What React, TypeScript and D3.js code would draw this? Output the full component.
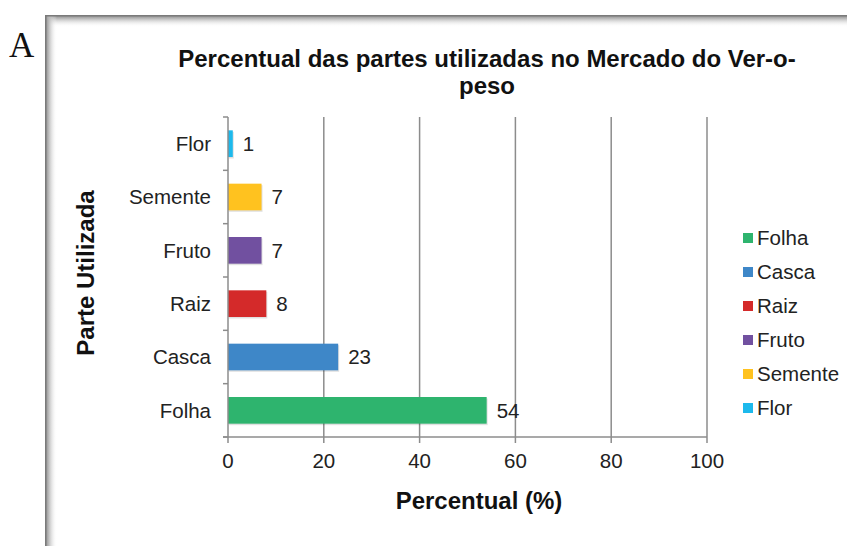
import React from "react";
import * as d3 from "d3";

const categories = ["Folha", "Casca", "Raiz", "Fruto", "Semente", "Flor"];
const values = [54, 23, 8, 7, 7, 1];
const colors = ["#2EB46E", "#3E87C8", "#D42A2A", "#7150A0", "#FFC21F", "#1DB9EC"];
const xTicks = [0, 20, 40, 60, 80, 100];
const titleLines = ["Percentual das partes utilizadas no Mercado do Ver-o-", "peso"];

const W = 847;
const H = 546;
const FONT = "'Liberation Sans', Arial, sans-serif";

export default function App() {
  const plotLeft = 228;
  const plotRight = 707;
  const plotTop = 117;
  const plotBottom = 437;

  const x = d3.scaleLinear().domain([0, 100]).range([plotLeft, plotRight]);
  const displayOrder = [...categories].reverse(); // Flor at top
  const y = d3
    .scaleBand<string>()
    .domain(displayOrder)
    .range([plotTop, plotBottom])
    .paddingInner(0.5)
    .paddingOuter(0.25);
  const step = y.step();
  const boundaries = d3.range(displayOrder.length + 1).map((i) => plotTop + i * step);

  return (
    <svg
      width={W}
      height={H}
      style={{ position: "absolute", left: 0, top: 0, background: "#fff" }}
      fontFamily={FONT}
    >
      <defs>
        <linearGradient id="shL" x1="0" x2="1" y1="0" y2="0">
          <stop offset="0" stopColor="#8a8a8a" />
          <stop offset="0.25" stopColor="#b0b0b0" />
          <stop offset="1" stopColor="#ffffff" stopOpacity="0" />
        </linearGradient>
        <linearGradient id="shT" x1="0" x2="0" y1="0" y2="1">
          <stop offset="0" stopColor="#8a8a8a" />
          <stop offset="0.25" stopColor="#b0b0b0" />
          <stop offset="1" stopColor="#ffffff" stopOpacity="0" />
        </linearGradient>
      </defs>
      {/* Letter A outside box */}
      <text x={9} y={57} fontFamily="'Liberation Serif', 'DejaVu Serif', serif" fontSize={35} fill="#111">
        A
      </text>
      {/* box shadow edges */}
      <rect x={45} y={15} width={W - 45} height={12} fill="url(#shT)" />
      <rect x={45} y={15} width={12} height={H - 15} fill="url(#shL)" />
      <rect x={45} y={15} width={W - 45} height={1.5} fill="#7a7a7a" />
      <rect x={45} y={15} width={1.5} height={H - 15} fill="#7a7a7a" />

      {/* Title */}
      {titleLines.map((t, i) => (
        <text
          key={i}
          x={487}
          y={67 + i * 27}
          textAnchor="middle"
          fontSize={24}
          fontWeight="bold"
          fill="#111"
        >
          {t}
        </text>
      ))}

      {/* Gridlines */}
      {xTicks.slice(1).map((t) => (
        <line key={t} x1={x(t)} x2={x(t)} y1={plotTop} y2={plotBottom} stroke="#8c8c8c" strokeWidth={1.5} />
      ))}

      {/* Bars */}
      {categories.map((c, i) => (
        <g key={c}>
          <rect
            x={x(0) + 1}
            y={y(c)! + 1.5}
            width={x(values[i]) - x(0)}
            height={y.bandwidth()}
            fill="#000"
            opacity={0.12}
          />
          <rect x={x(0)} y={y(c)!} width={x(values[i]) - x(0)} height={y.bandwidth()} fill={colors[i]} />
          <text
            x={x(values[i]) + 10}
            y={y(c)! + y.bandwidth() / 2}
            dy="0.35em"
            fontSize={20.5}
            fill="#222"
          >
            {values[i]}
          </text>
          <text
            x={211}
            y={y(c)! + y.bandwidth() / 2}
            dy="0.35em"
            textAnchor="end"
            fontSize={20.5}
            fill="#222"
          >
            {c}
          </text>
        </g>
      ))}

      {/* Y axis line + ticks */}
      <line x1={plotLeft} x2={plotLeft} y1={plotTop} y2={plotBottom} stroke="#8c8c8c" strokeWidth={1.5} />
      {boundaries.map((b, i) => (
        <line key={i} x1={plotLeft - 5} x2={plotLeft} y1={b} y2={b} stroke="#8c8c8c" strokeWidth={1.5} />
      ))}

      {/* X axis line + ticks */}
      <line x1={plotLeft - 5} x2={plotRight} y1={plotBottom} y2={plotBottom} stroke="#8c8c8c" strokeWidth={1.5} />
      {xTicks.map((t) => (
        <g key={t}>
          <line x1={x(t)} x2={x(t)} y1={plotBottom} y2={plotBottom + 6} stroke="#8c8c8c" strokeWidth={1.5} />
          <text x={x(t)} y={461} dy="0.35em" textAnchor="middle" fontSize={20.5} fill="#222">
            {t}
          </text>
        </g>
      ))}

      {/* Axis titles */}
      <text x={479} y={509} textAnchor="middle" fontSize={24} fontWeight="bold" fill="#111">
        Percentual (%)
      </text>
      <text
        transform={`translate(94, 273) rotate(-90)`}
        textAnchor="middle"
        fontSize={24}
        fontWeight="bold"
        fill="#111"
      >
        Parte Utilizada
      </text>

      {/* Legend */}
      {categories.map((c, i) => (
        <g key={c} transform={`translate(743, ${238 + i * 34})`}>
          <rect x={0} y={-5} width={10} height={10} fill={colors[i]} />
          <text x={14} y={0} dy="0.35em" fontSize={20.5} fill="#222">
            {c}
          </text>
        </g>
      ))}
    </svg>
  );
}
